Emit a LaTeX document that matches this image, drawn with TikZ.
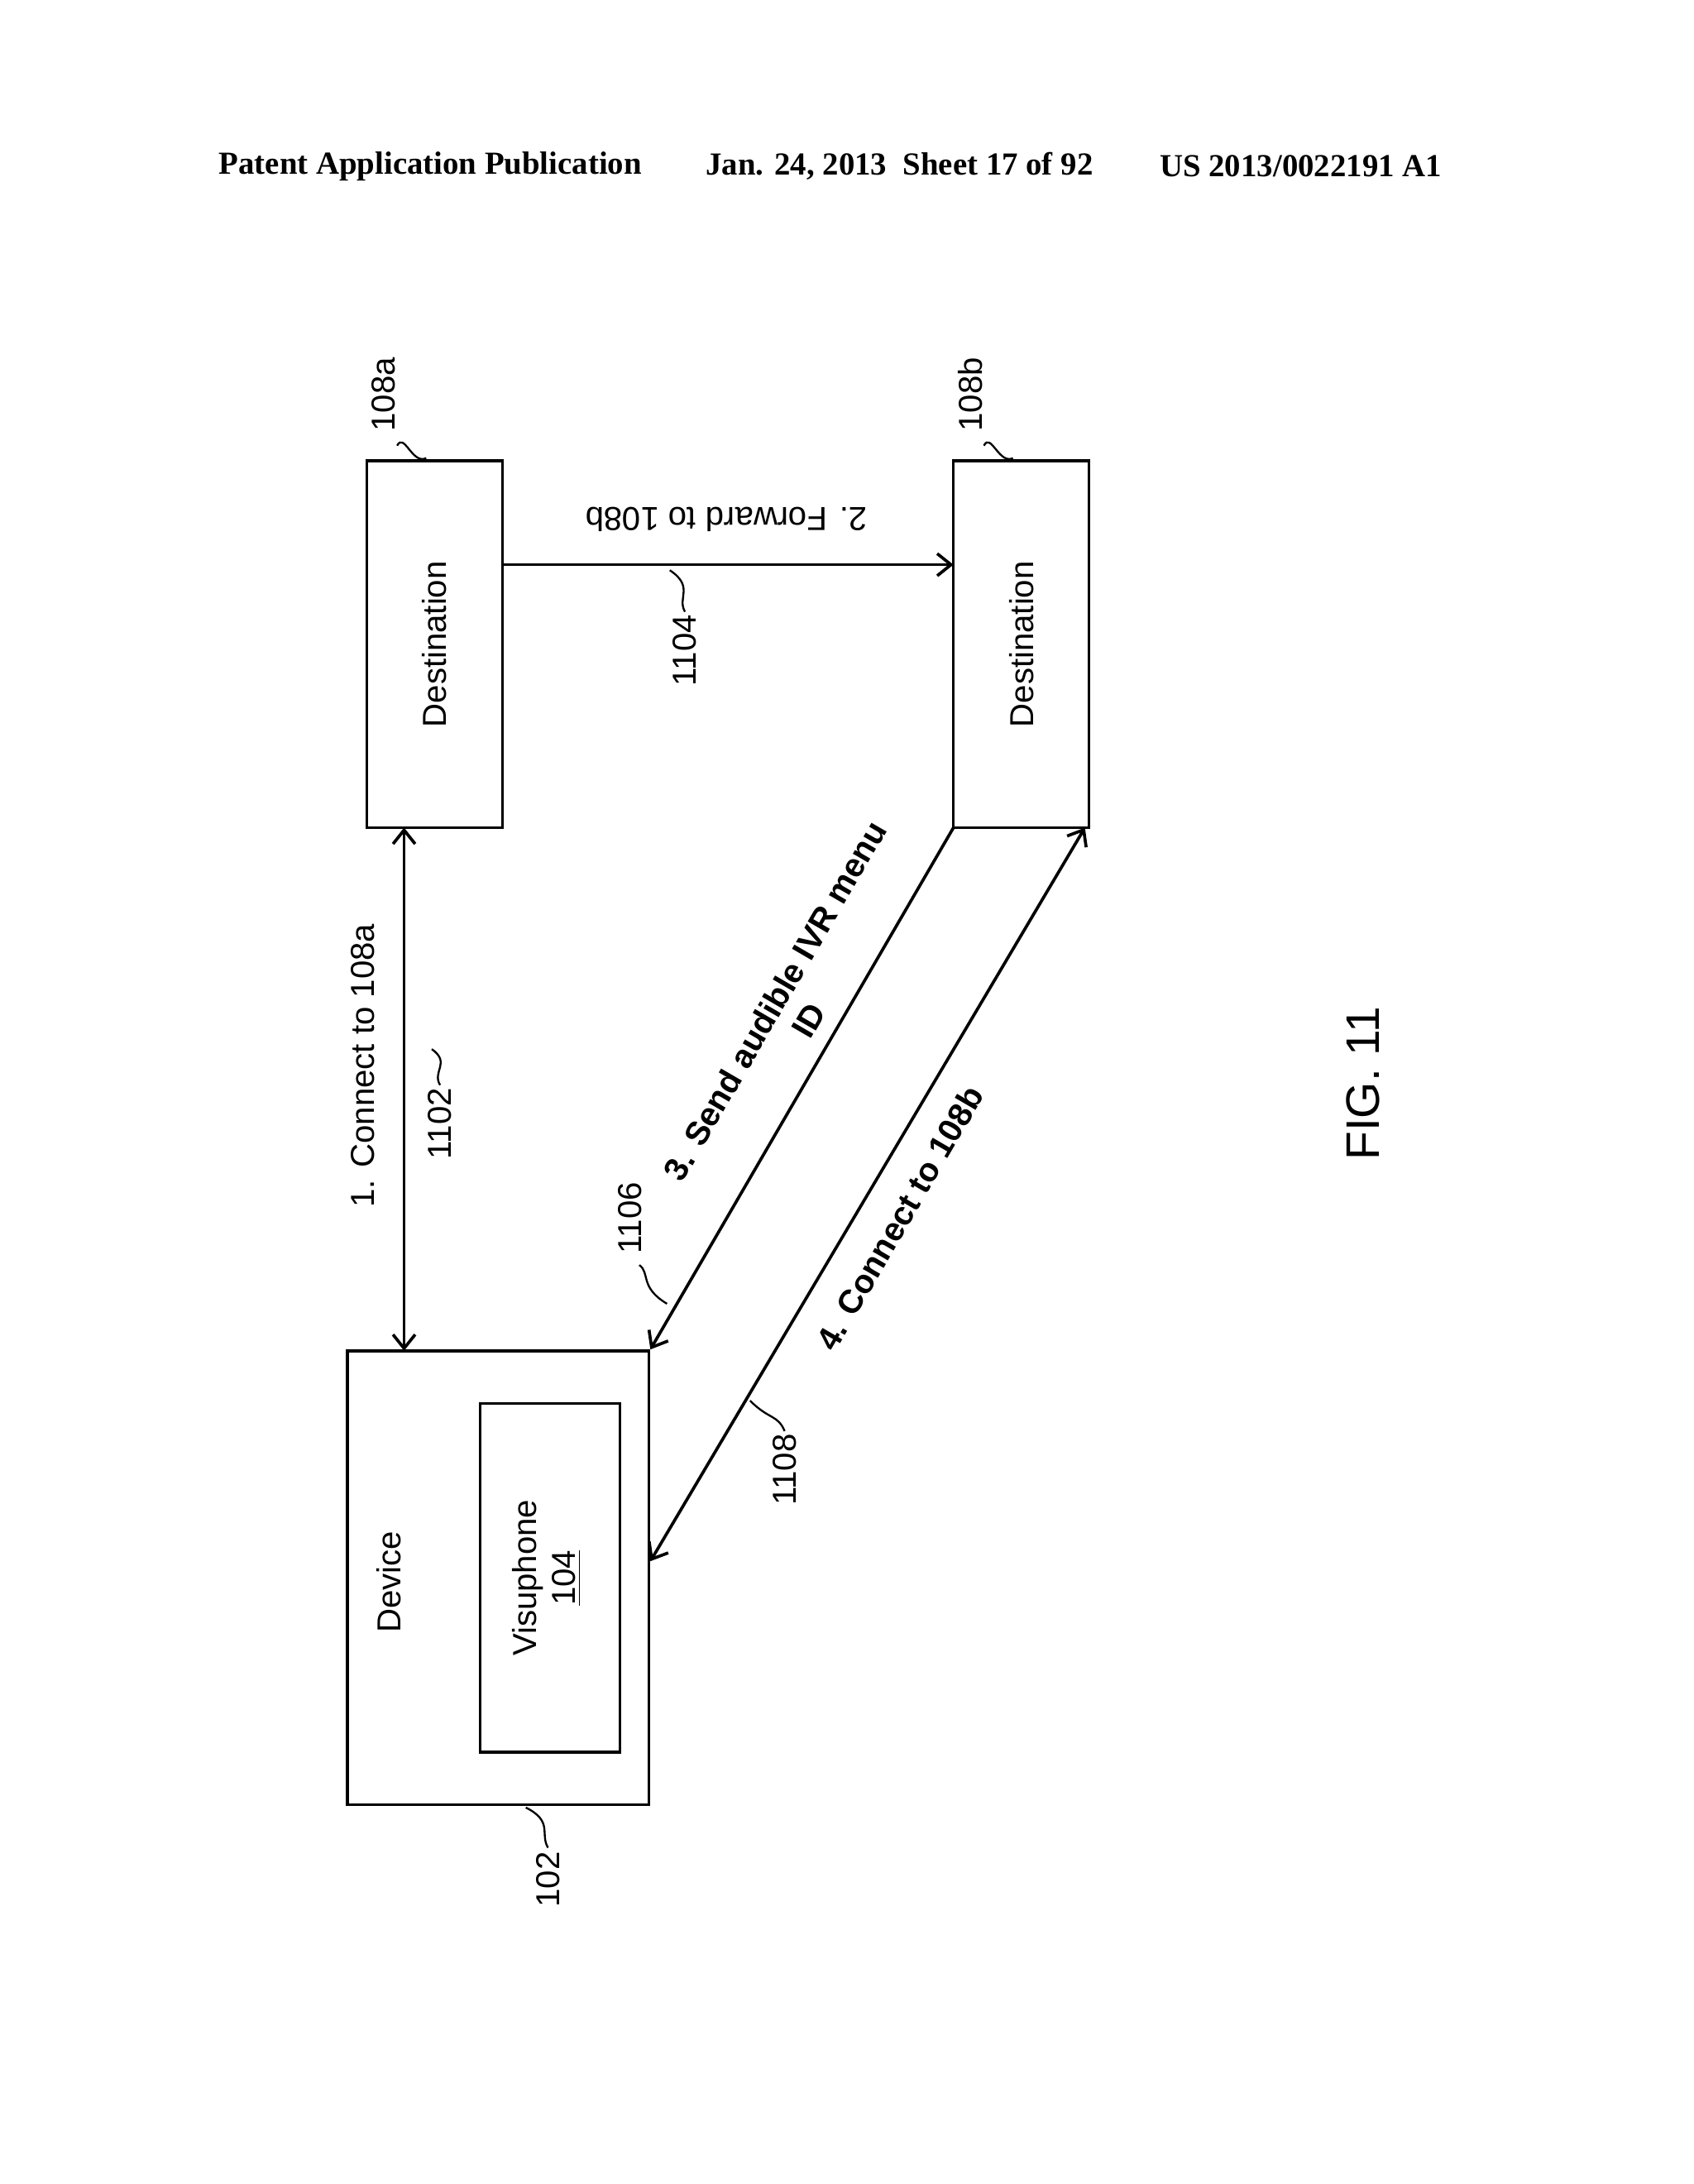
\documentclass[tikz,border=0pt]{standalone}
\usepackage{fontspec}
\setmainfont{Liberation Sans}
\newfontfamily\hdr{Liberation Serif}
\usetikzlibrary{arrows.meta}
\begin{document}
\begin{tikzpicture}[x=0.5pt,y=-0.5pt,
  box/.style={draw,line width=1pt,inner sep=0pt},
  lab/.style={font=\fontsize{12}{14}\selectfont},
  blab/.style={font=\fontsize{12}{14}\selectfont\bfseries},
  hd/.style={font=\hdr\bfseries\fontsize{11.6}{13}\selectfont},
  arr/.style={line width=1.1pt,-{Straight Barb[length=5pt,width=8pt]}},
  darr/.style={line width=1.1pt,{Straight Barb[length=5pt,width=8pt]}-{Straight Barb[length=5pt,width=8pt]}},
  sq/.style={line width=0.7pt}]
\useasboundingbox (0,0) rectangle (1224,1578);
\node[hd] (h1) at (311,120) {Patent Application Publication};
\node[hd] (h2) at (650,120) {Jan. 24, 2013\ \ Sheet 17 of 92};
\node[hd] (h3) at (940,120) {US 2013/0022191 A1};
% boxes
\node[box,minimum width=49pt,minimum height=132.5pt] (da) at (314,465.5) {};
\node[lab,rotate=90] (dat) at (314,465.5) {Destination};
\node[box,minimum width=49pt,minimum height=132.5pt] (db) at (738,465.5) {};
\node[lab,rotate=90] (dbt) at (738,465.5) {Destination};
\node[box,minimum width=109pt,minimum height=164pt] (dev) at (360,1140) {};
\node[lab,rotate=90] (devt) at (281,1143) {Device};
\node[box,minimum width=50.5pt,minimum height=126pt] (vis) at (397.5,1140) {};
\node[lab,rotate=90,align=center] (vist) at (395,1140) {Visuphone\\\underline{104}};
% coordinates
\coordinate (a1) at (292,598); \coordinate (a2) at (292,976);
\coordinate (b1) at (363,408); \coordinate (b2) at (689,408);
\coordinate (c1) at (689,598); \coordinate (c2) at (470,975);
\coordinate (d1) at (470,1128); \coordinate (d2) at (784,598);
\draw[darr] (a1) -- (a2);
\draw[arr] (b1) -- (b2);
\draw[arr] (c1) -- (c2);
\draw[darr] (d1) -- (d2);
% labels
\node[lab,rotate=90] (l1) at (262,770) {1. Connect to 108a};
\node[lab,rotate=180] (l2) at (525,375) {2. Forward to 108b};
\node[blab,rotate=59.8,align=center] (l3) at (572,730) {3. Send audible IVR menu\\ID};
\node[blab,rotate=59.8] (l4) at (650,880) {4. Connect to 108b};
\node[font=\fontsize{17}{20}\selectfont,rotate=90] (fig) at (985,783) {FIG. 11};
% reference numbers
\node[lab,rotate=90] (n108a) at (277,285) {108a};
\draw[sq] (287,322) .. controls (292,312) and (298,336) .. (308,331);
\node[lab,rotate=90] (n108b) at (701,285) {108b};
\draw[sq] (711,322) .. controls (716,312) and (722,336) .. (732,331);
\node[lab,rotate=90] (n1102) at (318,812) {1102};
\draw[sq] (318,784) .. controls (312,774) and (326,768) .. (312,758);
\node[lab,rotate=90] (n1104) at (495,470) {1104};
\draw[sq] (495,442) .. controls (489,432) and (502,424) .. (484,412);
\node[lab,rotate=90] (n1106) at (455,880) {1106};
\draw[sq] (462,914) .. controls (470,920) and (462,930) .. (482,942);
\node[lab,rotate=90] (n1108) at (567,1062) {1108};
\draw[sq] (567,1034) .. controls (562,1022) and (556,1026) .. (542,1012);
\node[lab,rotate=90] (n102) at (396,1358) {102};
\draw[sq] (396,1335) .. controls (390,1325) and (400,1316) .. (380,1306);
\end{tikzpicture}
\end{document}
